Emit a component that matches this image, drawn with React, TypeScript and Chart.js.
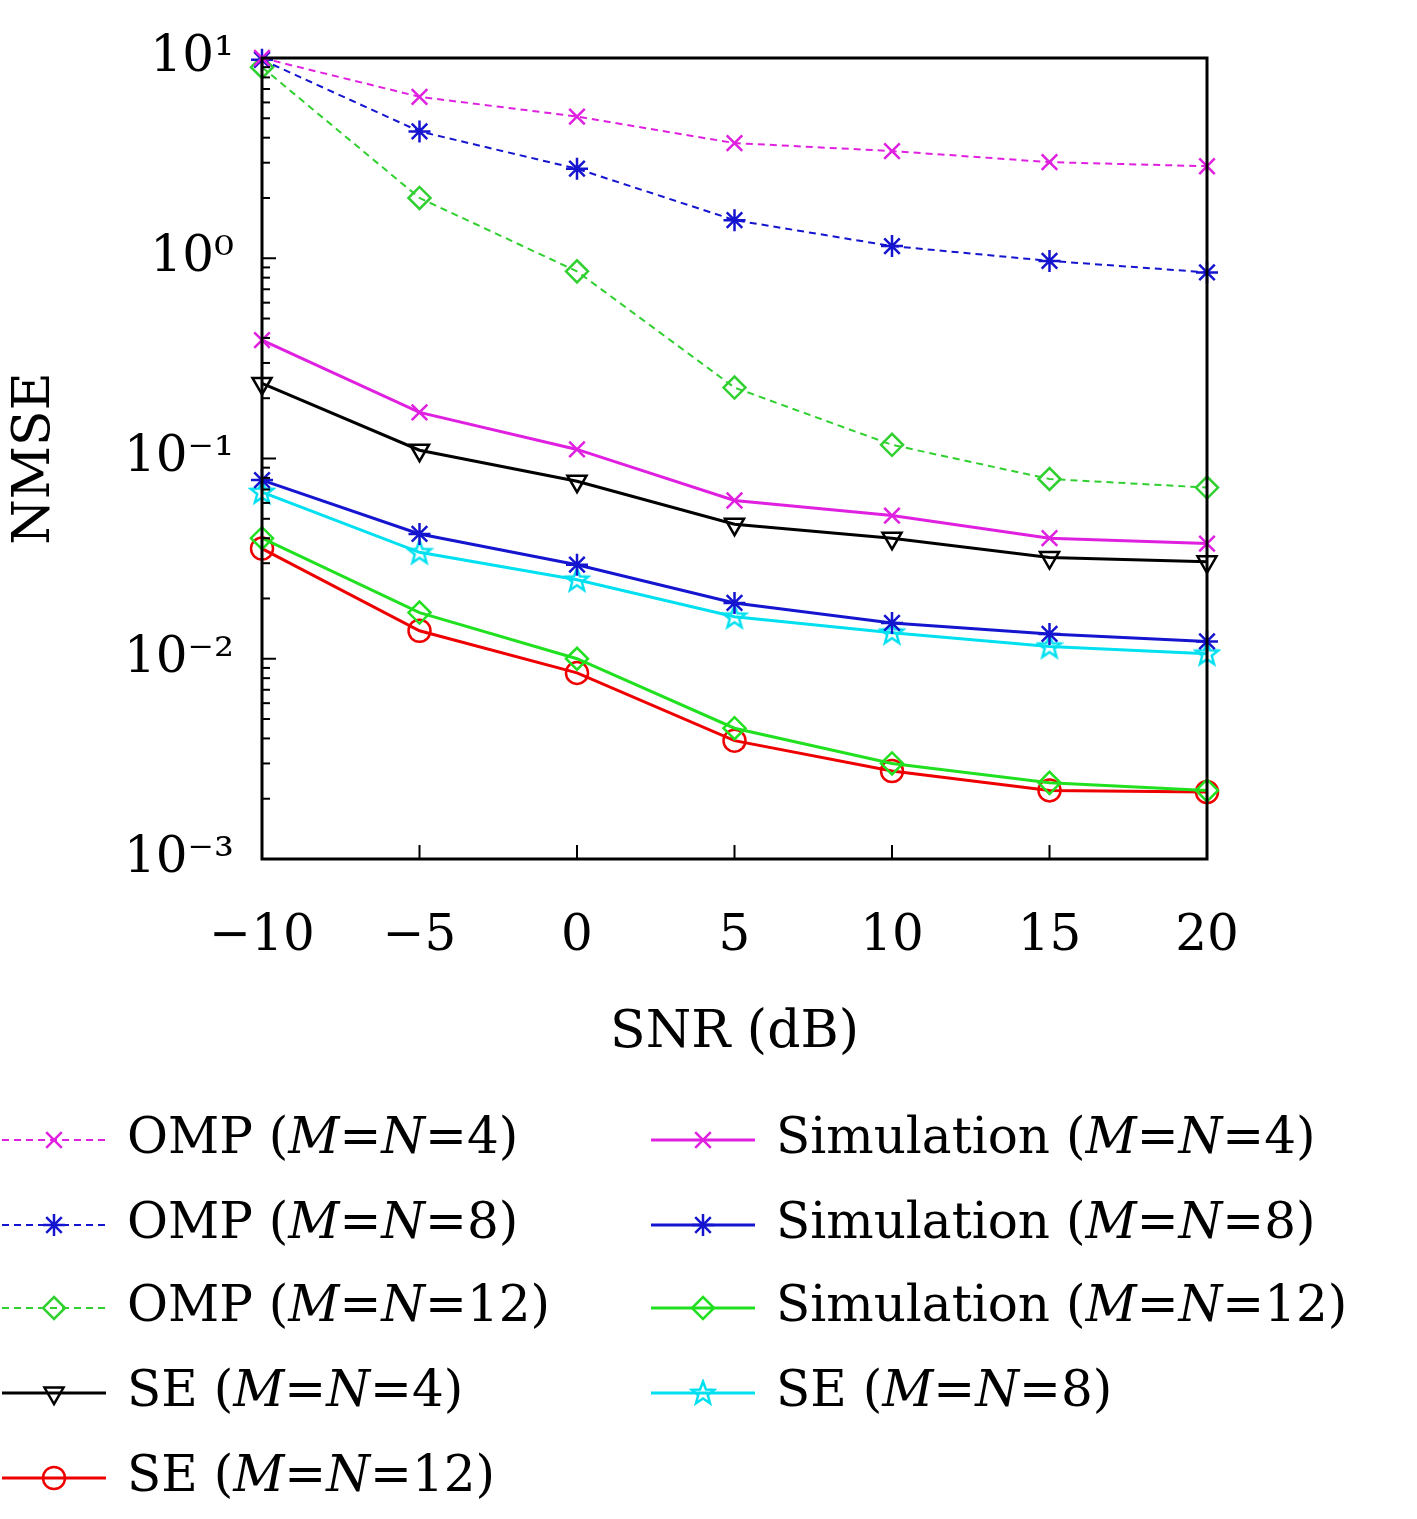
import React, { useEffect, useRef } from "react";
import { Chart, registerables } from "chart.js";
Chart.register(...registerables);

const snr = [-10, -5, 0, 5, 10, 15, 20];
const omp4 = [10, 6.4, 5.1, 3.76, 3.43, 3.02, 2.88];
const omp8 = [9.8, 4.3, 2.8, 1.55, 1.15, 0.97, 0.85];
const omp12 = [9.0, 2.0, 0.86, 0.226, 0.117, 0.079, 0.0716];
const sim4 = [0.39, 0.17, 0.111, 0.0617, 0.0519, 0.04, 0.0376];
const se4 = [0.237, 0.11, 0.077, 0.047, 0.04, 0.032, 0.0305];
const sim8 = [0.078, 0.042, 0.0295, 0.019, 0.0151, 0.0133, 0.0122];
const se8 = [0.068, 0.034, 0.0248, 0.0162, 0.0135, 0.0115, 0.0106];
const sim12 = [0.04, 0.017, 0.01, 0.0045, 0.003, 0.0024, 0.0022];
const se12 = [0.0355, 0.0138, 0.0085, 0.0039, 0.00275, 0.0022, 0.00216];
const yTickLabels: Record<string, string> = { "10": "10¹", "1": "10⁰", "0.1": "10⁻¹", "0.01": "10⁻²", "0.001": "10⁻³" };

const FONT = "'DejaVu Serif', 'Liberation Serif', serif";

function pentagram(color: string) {
  const c = document.createElement("canvas");
  c.width = 28; c.height = 28;
  const g = c.getContext("2d")!;
  g.strokeStyle = color; g.lineWidth = 2.5;
  g.beginPath();
  for (let i = 0; i < 10; i++) {
    const r = i % 2 === 0 ? 12 : 5;
    const a = -Math.PI / 2 + (i * Math.PI) / 5;
    const x = 14 + r * Math.cos(a), y = 14.5 + r * Math.sin(a);
    i === 0 ? g.moveTo(x, y) : g.lineTo(x, y);
  }
  g.closePath(); g.stroke();
  return c;
}

type S = { label: string[]; data: number[]; color: string; dash: boolean; style: any; rot?: number };

export default function App() {
  const ref = useRef<HTMLCanvasElement>(null);
  useEffect(() => {
    const star5 = pentagram("#00e0f0");
    const series: S[] = [
      { label: ["OMP (", "M", "=", "N", "=4)"], data: omp4, color: "#e020e0", dash: true, style: "crossRot" },
      { label: ["Simulation (", "M", "=", "N", "=4)"], data: sim4, color: "#e020e0", dash: false, style: "crossRot" },
      { label: ["OMP (", "M", "=", "N", "=8)"], data: omp8, color: "#1515d0", dash: true, style: "star" },
      { label: ["Simulation (", "M", "=", "N", "=8)"], data: sim8, color: "#1515d0", dash: false, style: "star" },
      { label: ["OMP (", "M", "=", "N", "=12)"], data: omp12, color: "#30d030", dash: true, style: "rectRot" },
      { label: ["Simulation (", "M", "=", "N", "=12)"], data: sim12, color: "#20e020", dash: false, style: "rectRot" },
      { label: ["SE (", "M", "=", "N", "=4)"], data: se4, color: "#000000", dash: false, style: "triangle", rot: 180 },
      { label: ["SE (", "M", "=", "N", "=8)"], data: se8, color: "#00e0f0", dash: false, style: star5 },
      { label: ["SE (", "M", "=", "N", "=12)"], data: se12, color: "#ee0000", dash: false, style: "circle" },
    ];
    const plugin = {
      id: "deco",
      afterDraw(chart: any) {
        const ctx = chart.ctx as CanvasRenderingContext2D;
        const a = chart.chartArea;
        const xs = chart.scales.x, ys = chart.scales.y;
        ctx.save();
        ctx.strokeStyle = "#000"; ctx.lineWidth = 3; ctx.setLineDash([]);
        ctx.strokeRect(a.left, a.top, a.right - a.left, a.bottom - a.top);
        ctx.lineWidth = 2;
        for (const v of snr) {
          const x = xs.getPixelForValue(v);
          ctx.beginPath(); ctx.moveTo(x, a.bottom); ctx.lineTo(x, a.bottom - 14); ctx.stroke();
        }
        for (let e = -3; e <= 1; e++) {
          for (let m = 1; m <= 9; m++) {
            const v = m * Math.pow(10, e);
            if (v > 10.0001) break;
            const y = ys.getPixelForValue(v);
            const len = m === 1 ? 14 : 8;
            ctx.beginPath(); ctx.moveTo(a.left, y); ctx.lineTo(a.left + len, y); ctx.stroke();
          }
        }
        ctx.textBaseline = "middle";
        const rowsY = [1140, 1225, 1308, 1393, 1478];
        series.forEach((s, i) => {
          const col = i % 2, row = Math.floor(i / 2);
          const x0 = col === 0 ? 2 : 651, y = rowsY[row];
          ctx.strokeStyle = s.color; ctx.lineWidth = s.dash ? 2 : 3;
          ctx.setLineDash(s.dash ? [7, 5] : []);
          ctx.beginPath(); ctx.moveTo(x0, y); ctx.lineTo(x0 + 104, y); ctx.stroke();
          ctx.setLineDash([]);
          ctx.lineWidth = 2.5;
          drawMarker(ctx, s.style, x0 + 52, y, s.color, s.rot || 0);
          let tx = x0 + 125;
          ctx.fillStyle = "#000";
          s.label.forEach((t, k) => {
            ctx.font = (k === 1 || k === 3 ? "italic " : "") + `50px ${FONT}`;
            ctx.fillText(t, tx, y);
            tx += ctx.measureText(t).width;
          });
        });
        ctx.restore();
      },
    };
    const chart = new Chart(ref.current!, {
      type: "line",
      data: {
        labels: snr,
        datasets: series.map((s) => ({
          label: s.label.join(""),
          data: s.data,
          borderColor: s.color,
          backgroundColor: "transparent",
          borderWidth: s.dash ? 2 : 3,
          borderDash: s.dash ? [7, 5] : [],
          pointStyle: s.style,
          pointRotation: s.rot || 0,
          pointRadius: 11,
          pointBorderWidth: 2.5,
          pointBorderColor: s.color,
          pointBackgroundColor: "transparent",
          tension: 0,
          clip: false as any,
        })),
      },
      options: {
        animation: false,
        responsive: false,
        layout: { padding: { top: 58, right: 210, bottom: 450, left: 0 } },
        plugins: { legend: { display: false }, tooltip: { enabled: false } },
        scales: {
          x: {
            type: "linear", min: -10, max: 20,
            afterBuildTicks: (sc: any) => { sc.ticks = snr.map((v) => ({ value: v })); },
            afterFit: (sc: any) => { sc.height = 210; },
            grid: { display: false },
            border: { display: false },
            ticks: { color: "#000", font: { family: FONT, size: 50 }, padding: 40, maxRotation: 0,
              callback: (v: any) => (Number(v) < 0 ? "−" + Math.abs(Number(v)) : String(v)) },
            title: { display: true, text: "SNR (dB)", color: "#000", font: { family: FONT, size: 52 }, padding: { top: 25 } },
          },
          y: {
            type: "logarithmic", min: 0.001, max: 10,
            afterBuildTicks: (sc: any) => { sc.ticks = [10, 1, 0.1, 0.01, 0.001].map((v) => ({ value: v, major: true })); },
            afterFit: (sc: any) => { sc.width = 262; },
            grid: { display: false },
            border: { display: false },
            ticks: { color: "#000", font: { family: FONT, size: 50 }, padding: 20,
              callback: (v: any) => yTickLabels[String(v)] ?? "" },
            title: { display: true, text: "NMSE", color: "#000", font: { family: FONT, size: 52 }, padding: { bottom: 10 } },
          },
        },
      },
      plugins: [plugin],
    });
    return () => chart.destroy();
  }, []);
  return (
    <div style={{ position: "absolute", left: 0, top: 0, background: "#fff" }}>
      <canvas ref={ref} width={1417} height={1519} style={{ display: "block" }} />
    </div>
  );
}

function drawMarker(ctx: CanvasRenderingContext2D, style: any, x: number, y: number, color: string, rot: number) {
  const r = 11;
  ctx.strokeStyle = color;
  if (typeof style !== "string") {
    ctx.drawImage(style, x - style.width / 2, y - style.height / 2);
    return;
  }
  ctx.beginPath();
  if (style === "crossRot") {
    const d = r * 0.707;
    ctx.moveTo(x - d, y - d); ctx.lineTo(x + d, y + d);
    ctx.moveTo(x - d, y + d); ctx.lineTo(x + d, y - d);
  } else if (style === "star") {
    const d = r * 0.707;
    ctx.moveTo(x - d, y - d); ctx.lineTo(x + d, y + d);
    ctx.moveTo(x - d, y + d); ctx.lineTo(x + d, y - d);
    ctx.moveTo(x, y - r); ctx.lineTo(x, y + r);
    ctx.moveTo(x - r, y); ctx.lineTo(x + r, y);
  } else if (style === "rectRot") {
    ctx.moveTo(x, y - r); ctx.lineTo(x + r, y); ctx.lineTo(x, y + r); ctx.lineTo(x - r, y); ctx.closePath();
  } else if (style === "triangle") {
    const s = rot === 180 ? -1 : 1;
    ctx.moveTo(x, y - s * r); ctx.lineTo(x + r * 0.866, y + s * r * 0.5); ctx.lineTo(x - r * 0.866, y + s * r * 0.5); ctx.closePath();
  } else if (style === "circle") {
    ctx.arc(x, y, r, 0, Math.PI * 2);
  }
  ctx.stroke();
}
